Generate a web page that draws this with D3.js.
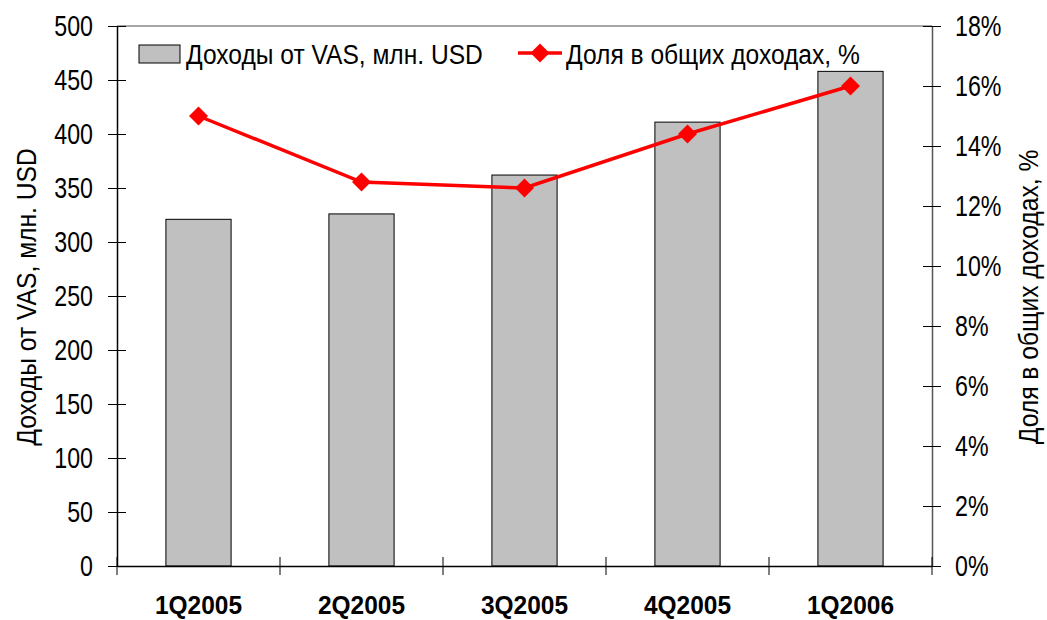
<!DOCTYPE html>
<html>
<head>
<meta charset="utf-8">
<script src="https://cdn.jsdelivr.net/npm/d3@7"></script>
<style>
  body { margin: 0; background: #fff; }
  text { font-family: "Liberation Sans Narrow", "Liberation Sans", Arial, sans-serif; }
</style>
</head>
<body>
<svg id="chart" width="1047" height="620"></svg>
<script>
let quarters = ['1Q2005', '2Q2005', '3Q2005', '4Q2005', '1Q2006']
let vasRevenue = [321, 326, 362, 411, 458]
let vasShare = [15.0, 12.8, 12.6, 14.4, 16.0]
let leftTicks = [0, 50, 100, 150, 200, 250, 300, 350, 400, 450, 500]
let rightTicks = [0, 2, 4, 6, 8, 10, 12, 14, 16, 18]

let svg = d3.select('#chart')
let plotLeft = 117, plotRight = 932, plotTop = 26, plotBottom = 566

// squeeze text horizontally to look like a narrow face
let narrow = (sel, k) => {
  sel.each(function () {
    let w = this.getComputedTextLength()
    d3.select(this).attr('textLength', w * k).attr('lengthAdjust', 'spacingAndGlyphs')
  })
}

let x = d3.scaleBand().domain(quarters).range([plotLeft, plotRight])
let yL = d3.scaleLinear().domain([0, 500]).range([plotBottom, plotTop])
let yR = d3.scaleLinear().domain([0, 18]).range([plotBottom, plotTop])

// top border
svg.append('line')
  .attr('x1', plotLeft).attr('x2', plotRight).attr('y1', plotTop).attr('y2', plotTop)
  .attr('stroke', '#888').attr('stroke-width', 1.5)

// bars
let barW = x.bandwidth() * 0.4
svg.selectAll('rect.bar')
  .data(quarters)
  .enter()
  .append('rect')
  .attr('class', 'bar')
  .attr('x', (q) => x(q) + x.bandwidth() / 2 - barW / 2)
  .attr('y', (q, i) => yL(vasRevenue[i]))
  .attr('width', barW)
  .attr('height', (q, i) => plotBottom - yL(vasRevenue[i]))
  .attr('fill', '#c0c0c0')
  .attr('stroke', '#000')
  .attr('stroke-width', 1)

// left axis
let gL = svg.append('g').attr('transform', 'translate(' + plotLeft + ',0)')
gL.call(d3.axisLeft(yL).tickValues(leftTicks).tickSize(0).tickPadding(24))
gL.select('.domain').attr('stroke', '#000').attr('stroke-width', 1.5)
gL.selectAll('.tick line').attr('x1', -9).attr('x2', 9).attr('stroke', '#000')
gL.selectAll('.tick text').attr('font-size', 29).attr('fill', '#000').call(narrow, 0.8)

// right axis
let gR = svg.append('g').attr('transform', 'translate(' + plotRight + ',0)')
gR.call(d3.axisRight(yR).tickValues(rightTicks).tickSize(0).tickPadding(23)
  .tickFormat((d) => d + '%'))
gR.select('.domain').attr('stroke', '#555').attr('stroke-width', 1.5)
gR.selectAll('.tick line').attr('x1', -9).attr('x2', 9).attr('stroke', '#000')
gR.selectAll('.tick text').attr('font-size', 29).attr('fill', '#000').call(narrow, 0.8)

// x axis
let gX = svg.append('g').attr('transform', 'translate(0,' + plotBottom + ')')
gX.call(d3.axisBottom(x).tickSize(0).tickPadding(30))
gX.select('.domain').attr('stroke', '#000').attr('stroke-width', 1.5)
gX.selectAll('.tick line').remove()
gX.selectAll('.tick text')
  .attr('font-size', 26).attr('font-weight', 'bold').attr('fill', '#000')
  .style('font-family', '"Liberation Sans", Arial, sans-serif')
  .call(narrow, 0.94)
let bounds = quarters.map((q) => x(q)).concat([plotRight])
gX.selectAll('line.sep')
  .data(bounds)
  .enter()
  .append('line')
  .attr('class', 'sep')
  .attr('x1', (d) => d).attr('x2', (d) => d)
  .attr('y1', -9).attr('y2', 9)
  .attr('stroke', '#000').attr('stroke-width', 1)

// line series
let cx = (q) => x(q) + x.bandwidth() / 2
let line = d3.line().x((d, i) => cx(quarters[i])).y((d) => yR(d))
svg.append('path')
  .datum(vasShare)
  .attr('d', line)
  .attr('fill', 'none')
  .attr('stroke', '#ff0000')
  .attr('stroke-width', 3.5)

let diamond = d3.symbol().type(d3.symbolSquare).size(180)
svg.selectAll('path.marker')
  .data(vasShare)
  .enter()
  .append('path')
  .attr('class', 'marker')
  .attr('d', diamond)
  .attr('transform', (d, i) => 'translate(' + cx(quarters[i]) + ',' + yR(d) + ') rotate(45)')
  .attr('fill', '#ff0000')

// axis titles
svg.append('text')
  .attr('transform', 'translate(36,297) rotate(-90)')
  .attr('text-anchor', 'middle')
  .attr('font-size', 28)
  .text('Доходы от VAS, млн. USD')
  .call(narrow, 0.88)

svg.append('text')
  .attr('transform', 'translate(1038,297) rotate(-90)')
  .attr('text-anchor', 'middle')
  .attr('font-size', 28)
  .text('Доля в общих доходах, %')
  .call(narrow, 0.88)

// legend
let lg = svg.append('g')
lg.append('rect')
  .attr('x', 139).attr('y', 45).attr('width', 41).attr('height', 18)
  .attr('fill', '#c0c0c0').attr('stroke', '#000').attr('stroke-width', 1)
lg.append('text')
  .attr('x', 186).attr('y', 64).attr('font-size', 27)
  .text('Доходы от VAS, млн. USD')
  .call(narrow, 0.91)
lg.append('line')
  .attr('x1', 518).attr('x2', 562).attr('y1', 53).attr('y2', 53)
  .attr('stroke', '#ff0000').attr('stroke-width', 3.5)
lg.append('path')
  .attr('d', diamond)
  .attr('transform', 'translate(540,53) rotate(45)')
  .attr('fill', '#ff0000')
lg.append('text')
  .attr('x', 566).attr('y', 64).attr('font-size', 27)
  .text('Доля в общих доходах, %')
  .call(narrow, 0.91)
</script>
</body>
</html>
